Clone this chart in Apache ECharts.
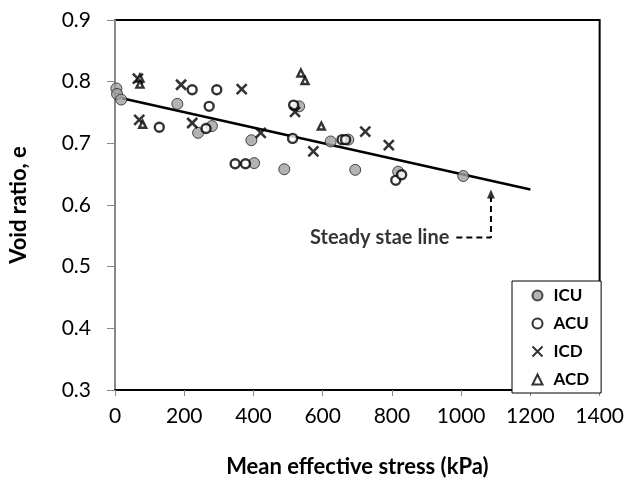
<!DOCTYPE html>
<html>
<head>
<meta charset="utf-8">
<script src="https://cdn.jsdelivr.net/npm/echarts@6/dist/echarts.min.js"></script>
<style>html,body{margin:0;padding:0;background:#fff}#c{width:627px;height:484px}</style>
</head>
<body>
<div id="c"></div>
<script>
var icu = [[4,0.789],[6,0.780],[18,0.771],[180,0.764],[240,0.717],[280,0.728],[394,0.705],[402,0.668],[489,0.658],[532,0.760],[623,0.703],[674,0.706],[694,0.657],[818,0.654],[1006,0.647]];
var acu = [[128,0.726],[223,0.787],[263,0.724],[272,0.760],[294,0.787],[347,0.667],[377,0.667],[513,0.708],[516,0.762],[656,0.706],[666,0.706],[811,0.640],[828,0.649]];
var icd = [[66,0.805],[70,0.738],[191,0.795],[223,0.733],[366,0.788],[421,0.717],[520,0.751],[573,0.687],[723,0.719],[791,0.697]];
var acd = [[72,0.806],[72,0.796],[80,0.731],[537,0.814],[549,0.802],[596,0.728]];
var steadyLine = [[20,0.773],[1200,0.625]];
var arrowPath = [[986,0.5475],[1086,0.5475],[1086,0.612]];
var arrowTip = [[1086,0.618]];
var noteAnchor = [[966,0.5475]];
var noteText = 'Steady stae line';
var xTicks = {min:0, max:1400, interval:200};
var yTicks = {min:0.3, max:0.9, interval:0.1};

var FONT = 'Lato';
var crossPath = 'path://M0,0L10,10M10,0L0,10';
var chart = echarts.init(document.getElementById('c'), null, {renderer:'canvas'});
chart.setOption({
  animation:false,
  backgroundColor:'#fff',
  textStyle:{fontFamily:FONT},
  grid:{left:112,right:25,top:20,bottom:94,show:true,borderColor:'#000',borderWidth:2,backgroundColor:'transparent'},
  legend:{
    orient:'vertical', left:512, top:281,
    data:['ICU','ACU','ICD','ACD'],
    backgroundColor:'#fff', borderColor:'#000', borderWidth:1,
    padding:[6,12,5,18], itemGap:11, itemWidth:10, itemHeight:10,
    textStyle:{fontFamily:FONT,fontWeight:'bold',fontSize:17,color:'#000',padding:[0,0,0,6]}
  },
  xAxis:{
    type:'value', min:xTicks.min, max:xTicks.max, interval:xTicks.interval,
    name:'Mean effective stress (kPa)', nameLocation:'middle', nameGap:66,
    nameTextStyle:{fontFamily:FONT,fontWeight:'bold',fontSize:22,color:'#000'},
    axisLine:{show:true,lineStyle:{color:'#000',width:2}},
    axisTick:{show:true,length:6,lineStyle:{color:'#888'}},
    axisLabel:{fontFamily:FONT,fontSize:21,color:'#000',margin:16,formatter:function(v){return String(v);}},
    splitLine:{show:false}
  },
  yAxis:{
    type:'value', min:yTicks.min, max:yTicks.max, interval:yTicks.interval,
    name:'Void ratio, e', nameLocation:'middle', nameGap:85, nameRotate:90,
    nameTextStyle:{fontFamily:FONT,fontWeight:'bold',fontSize:22,color:'#000'},
    axisLine:{show:true,lineStyle:{color:'#888',width:2}},
    axisTick:{show:true,length:8,lineStyle:{color:'#888'}},
    axisLabel:{fontFamily:FONT,fontSize:21,color:'#000',margin:24,formatter:function(v){return v.toFixed(1);}},
    splitLine:{show:false}
  },
  series:[
    {type:'line', name:'line', data:steadyLine, symbol:'none', lineStyle:{color:'#000',width:2.5}, z:1, silent:true},
    {type:'scatter', name:'ICU', data:icu, symbol:'circle', symbolSize:11, itemStyle:{color:'#a0a0a0',borderColor:'#222',borderWidth:1}, z:2},
    {type:'scatter', name:'ACU', data:acu, symbol:'circle', symbolSize:9, itemStyle:{color:'#fff',borderColor:'#000',borderWidth:2.4}, z:3},
    {type:'scatter', name:'ICD', data:icd, symbol:crossPath, symbolSize:10, itemStyle:{color:'none',borderColor:'#000',borderWidth:2.6}, z:4},
    {type:'scatter', name:'ACD', data:acd, symbol:'triangle', symbolSize:[7,7], itemStyle:{color:'#fff',borderColor:'#000',borderWidth:2.4}, z:5},
    {type:'line', name:'arrow', data:arrowPath, symbol:'none', lineStyle:{color:'#000',width:2,type:[6,4]}, z:6, silent:true},
    {type:'scatter', name:'tip', data:arrowTip, symbol:'triangle', symbolSize:[8,9], itemStyle:{color:'#000'}, z:6, silent:true},
    {type:'scatter', name:'note', data:noteAnchor, symbolSize:0, silent:true,
      label:{show:true,position:'left',distance:0,formatter:noteText,fontFamily:FONT,fontWeight:'bold',fontSize:20,color:'#000'}}
  ]
});
</script>
</body>
</html>
